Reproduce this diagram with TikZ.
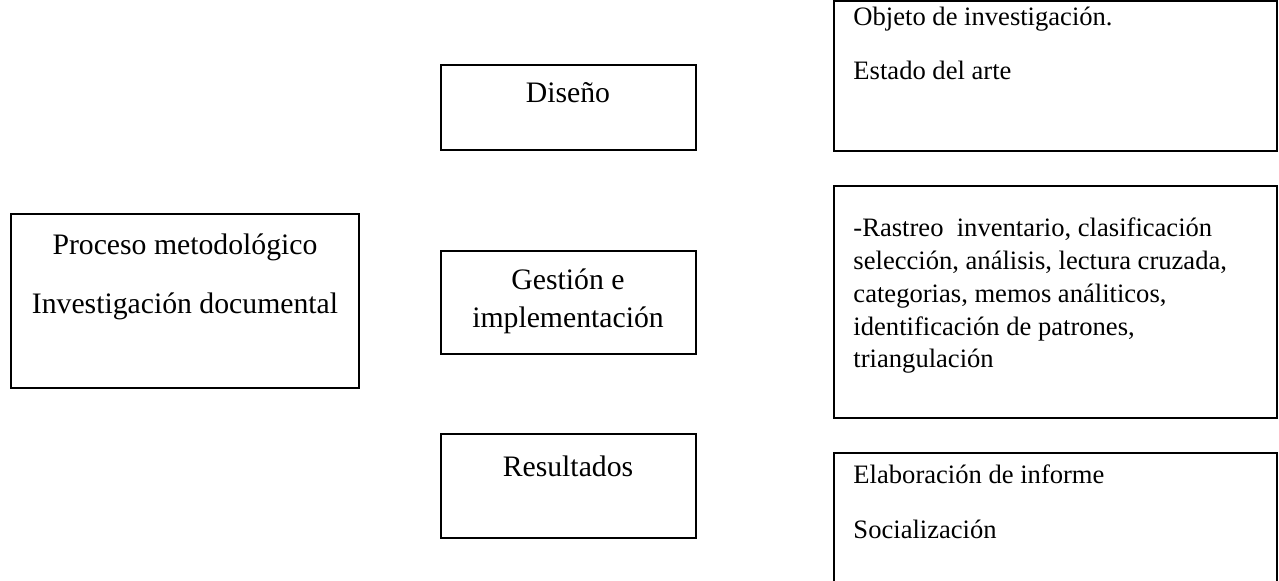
\documentclass[tikz,border=0pt]{standalone}
\usepackage{fontspec}
\setmainfont{Liberation Serif}
\begin{document}
\begin{tikzpicture}[x=0.4138pt,y=-0.4138pt,
  caja/.style={draw=black,line width=0.85pt},
  texto/.style={font=\fontsize{12.3}{14}\selectfont,anchor=mid,inner sep=0pt},
  nota/.style={font=\fontsize{11}{13}\selectfont,anchor=mid west,inner sep=0pt}]
 \useasboundingbox (0,0) rectangle (1279,581);
 % columna izquierda
 \draw[caja] (11,214) rectangle (359,388);
 \node[texto] (proceso) at (185,249) {Proceso metodológico};
 \node[texto] (docu) at (185,308) {Investigación documental};
 % columna central
 \draw[caja] (441,65) rectangle (696,150);
 \node[texto] (diseno) at (568,97) {Diseño};
 \draw[caja] (441,251) rectangle (696,354);
 \node[texto] (gestion) at (568,284) {Gestión e};
 \node[texto] (implem) at (568,322) {implementación};
 \draw[caja] (441,434) rectangle (696,538);
 \node[texto] (result) at (568,471) {Resultados};
 % columna derecha
 \draw[caja] (834,1) rectangle (1277,151);
 \node[nota] (objeto) at (853,20) {Objeto de investigación.};
 \node[nota] (estado) at (853,74) {Estado del arte};
 \draw[caja] (834,186) rectangle (1277,418);
 \node[nota] (rastreo) at (853,231) {-Rastreo\ \ inventario, clasificación};
 \node[nota] (selec) at (853,264) {selección, análisis, lectura cruzada,};
 \node[nota] (categ) at (853,297) {categorias, memos análiticos,};
 \node[nota] (patron) at (853,330) {identificación de patrones,};
 \node[nota] (triang) at (853,362) {triangulación};
 \draw[caja] (834,581) -- (834,453) -- (1277,453) -- (1277,581);
 \node[nota] (informe) at (853,478) {Elaboración de informe};
 \node[nota] (social) at (853,533) {Socialización};
\end{tikzpicture}
\end{document}
